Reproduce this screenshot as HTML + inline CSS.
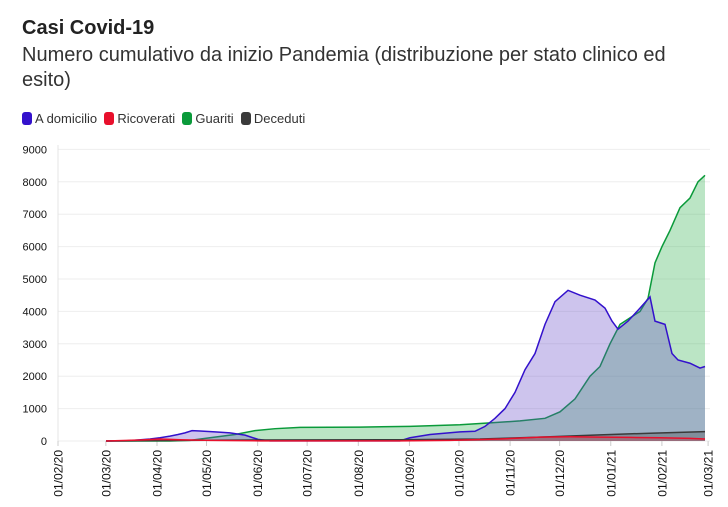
<!DOCTYPE html>
<html><head><meta charset="utf-8"><style>
body{margin:0;background:#fff;font-family:"Liberation Sans",sans-serif;}
.t{position:absolute;left:22px;top:17px;font-size:20px;font-weight:bold;color:#222;}
.s{position:absolute;left:22px;top:43px;font-size:20px;color:#333;line-height:25px;width:690px;}
.lg{position:absolute;left:22px;top:111px;font-size:13px;color:#333;}
.lg span{display:inline-block;width:10px;height:13px;border-radius:3px;vertical-align:-2px;margin-right:3px;}
</style></head><body>
<div class="t">Casi Covid-19</div>
<div class="s">Numero cumulativo da inizio Pandemia (distribuzione per stato clinico ed esito)</div>
<div class="lg"><span style="background:#3311cc"></span>A domicilio &nbsp;<span style="background:#e8102c"></span>Ricoverati &nbsp;<span style="background:#0a9a3a"></span>Guariti &nbsp;<span style="background:#3a3a3a"></span>Deceduti</div>
<svg id="c" width="728" height="507" style="position:absolute;left:0;top:0"></svg>
<script>
var svg=document.getElementById('c'),h='';
function Y(v){return 441-v*0.0324;}
for(var i=0;i<=9;i++){var y=Y(i*1000);h+='<line x1="58" x2="710" y1="'+y+'" y2="'+y+'" stroke="#eee"/>';h+='<text x="47" y="'+(y+4)+'" text-anchor="end" font-size="11" fill="#111">'+(i*1000)+'</text>';}
h+='<line x1="58" x2="58" y1="145" y2="445" stroke="#e4e4e4"/>';
var lab=['01/02/20','01/03/20','01/04/20','01/05/20','01/06/20','01/07/20','01/08/20','01/09/20','01/10/20','01/11/20','01/12/20','01/01/21','01/02/21','01/03/21'];
var days=[0,29,60,90,121,151,182,213,243,274,304,335,366,394];
for(i=0;i<lab.length;i++){var x=58+days[i]*1.65;h+='<line x1="'+x+'" x2="'+x+'" y1="441" y2="446" stroke="#ccc"/>';h+='<text transform="translate('+(x+4.5)+',450) rotate(-90)" text-anchor="end" font-size="12" fill="#111">'+lab[i]+'</text>';}
function area(pts,fill,stroke){var d='M'+pts[0][0]+','+Y(0);pts.forEach(function(p){d+=' L'+p[0]+','+Y(p[1]);});d+=' L'+pts[pts.length-1][0]+','+Y(0)+'Z';
var l='M'+pts.map(function(p){return p[0]+','+Y(p[1]);}).join(' L');
return '<path d="'+d+'" fill="'+fill+'"/><path d="'+l+'" fill="none" stroke="'+stroke+'" stroke-width="1.5"/>';}
var g=[[106,0],[170,0],[190,20],[210,100],[235,200],[255,320],[275,380],[300,420],[360,430],[410,450],[460,500],[490,560],[520,620],[545,700],[560,900],[575,1300],[590,2000],[600,2300],[610,3000],[620,3600],[630,3800],[640,4000],[648,4400],[655,5500],[662,6000],[670,6500],[680,7200],[690,7500],[698,8000],[705,8200]];
var p=[[106,0],[130,10],[150,60],[160,100],[170,150],[178,200],[185,250],[192,320],[200,310],[215,280],[230,250],[245,180],[258,50],[270,5],[400,5],[410,100],[430,200],[460,280],[475,300],[485,450],[495,700],[505,1000],[515,1500],[525,2200],[535,2700],[545,3600],[555,4300],[568,4650],[580,4500],[595,4350],[605,4100],[612,3700],[618,3450],[628,3700],[640,4100],[650,4450],[655,3700],[665,3600],[672,2700],[678,2500],[690,2400],[700,2250],[705,2300]];
var r=[[106,0],[140,30],[160,60],[180,40],[210,20],[260,5],[400,5],[450,20],[500,60],[540,120],[570,130],[600,120],[630,110],[660,100],[690,80],[705,60]];
var dd=[[106,0],[150,10],[250,30],[400,40],[480,60],[540,120],[600,190],[650,240],[705,290]];
h+=area(g,'rgba(60,180,90,0.35)','#0a9a3a');
h+=area(p,'rgba(100,70,200,0.32)','#3311cc');
h+=area(dd,'rgba(60,60,60,0.3)','#3a3a3a');
h+=area(r,'rgba(230,20,40,0.25)','#e8102c');
svg.innerHTML=h;
</script>
</body></html>
